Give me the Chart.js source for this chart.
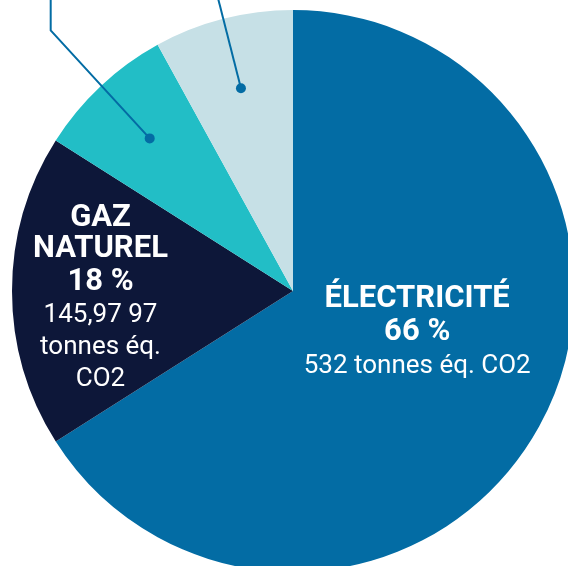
<!DOCTYPE html>
<html lang="fr">
<head>
    <meta charset="UTF-8">
    <title>Émissions par source</title>
    <style>
        html, body {
            margin: 0;
            padding: 0;
            background: #ffffff;
            overflow: hidden;
        }
        #wrap {
            position: absolute;
            left: 0;
            top: 0;
            width: 586px;
            height: 582px;
        }
    </style>
</head>
<body>
    <div id="wrap"><canvas id="pieChart" width="586" height="582"></canvas></div>

    <script src="https://cdn.jsdelivr.net/npm/chart.js"></script>
    <script>
        // data
        const categories = ['Électricité', 'Gaz naturel', 'Autre source 1', 'Autre source 2'];
        const shares = [66, 18, 8, 8];   // %
        const titles = [['ÉLECTRICITÉ'], ['GAZ', 'NATUREL'], [], []];
        const amounts = [['532 tonnes éq. CO2'], ['145,97 97', 'tonnes éq.', 'CO2'], [], []];
        const colors = ['#036ca4', '#0d1739', '#22bec6', '#c6e0e6'];

        // label block centres, as fractions of the radius from the pie centre
        const labelAnchors = [[0.442, 0.15], [-0.685, 0.03], null, null];
        // slices that get a leader line (dot at 74% of radius)
        const leaderSlices = [2, 3];

        const labelPlugin = {
            id: 'sliceLabels',
            afterDatasetsDraw(chart) {
                const ctx = chart.ctx;
                const arcs = chart.getDatasetMeta(0).data;
                ctx.save();

                // text inside the big slices
                arcs.forEach((arc, i) => {
                    const a = labelAnchors[i];
                    if (!a) return;
                    const r = arc.outerRadius;
                    const cx = arc.x + a[0] * r;
                    const cy = arc.y + a[1] * r;
                    const lines = [];
                    titles[i].forEach(t => lines.push({ t: t, font: 'bold 31px Roboto', h: 31 }));
                    lines.push({ t: shares[i] + ' %', font: 'bold 31px Roboto', h: 35 });
                    amounts[i].forEach(t => lines.push({ t: t, font: '26px Roboto', h: 32 }));
                    const total = lines.reduce((s, l) => s + l.h, 0);
                    let y = cy - total / 2;
                    ctx.fillStyle = '#ffffff';
                    ctx.textAlign = 'center';
                    ctx.textBaseline = 'middle';
                    lines.forEach(l => {
                        ctx.font = l.font;
                        ctx.fillText(l.t, cx, y + l.h / 2);
                        y += l.h;
                    });
                });

                // leader lines for the small slices (their labels sit above the view)
                ctx.strokeStyle = '#036ca4';
                ctx.fillStyle = '#036ca4';
                ctx.lineWidth = 2;
                leaderSlices.forEach((i, k) => {
                    const arc = arcs[i];
                    const mid = (arc.startAngle + arc.endAngle) / 2;
                    const rr = arc.outerRadius * 0.745;
                    const dx = arc.x + Math.cos(mid) * rr;
                    const dy = arc.y + Math.sin(mid) * rr;
                    ctx.beginPath();
                    ctx.moveTo(dx, dy);
                    if (k === 0) {
                        // elbow: diagonal then straight up
                        const ex = dx - 99;
                        const ey = dy - 108;
                        ctx.lineTo(ex, ey);
                        ctx.lineTo(ex, -10);
                    } else {
                        ctx.lineTo(dx - 25, -10);
                    }
                    ctx.stroke();
                    ctx.beginPath();
                    ctx.arc(dx, dy, 5, 0, Math.PI * 2);
                    ctx.fill();
                });

                ctx.restore();
            }
        };

        const ctx = document.getElementById('pieChart').getContext('2d');
        const chart = new Chart(ctx, {
            type: 'pie',
            data: {
                labels: categories,
                datasets: [{
                    data: shares,
                    backgroundColor: colors,
                    borderWidth: 0
                }]
            },
            options: {
                responsive: false,
                animation: false,
                layout: { padding: 10 },
                plugins: {
                    legend: { display: false },
                    tooltip: { enabled: false }
                }
            },
            plugins: [labelPlugin]
        });
    </script>
</body>
</html>
